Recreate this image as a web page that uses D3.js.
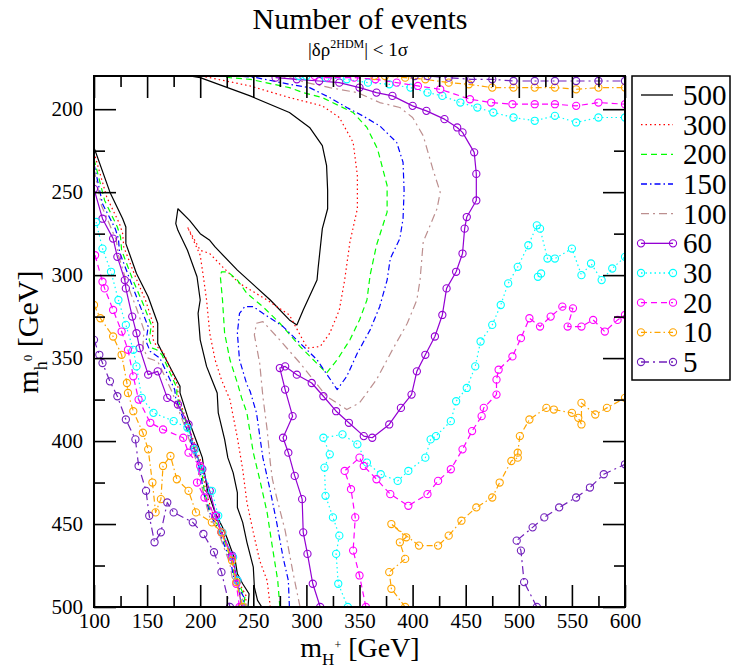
<!DOCTYPE html>
<html><head><meta charset="utf-8">
<script src="https://cdn.jsdelivr.net/npm/d3@7"></script>
<style>
body{margin:0;background:#fff}
svg text{font-family:"Liberation Serif","Times New Roman",serif !important;fill:#000}
</style>
</head><body>
<svg id="chart" width="731" height="671" font-family="Liberation Serif"></svg>
<script>
// ---------- data (mH+ [GeV], mh0 [GeV]) ----------
const levels = ["500","300","200","150","100","60","30","20","10","5"];
const xMajor = [100,150,200,250,300,350,400,450,500,550,600];
const xMinor = [125,175,225,275,325,375,425,475,525,575];
const yMajor = [200,250,300,350,400,450,500];
const yMinor = [225,275,325,375,425,475];

const c500L = [[100,223],[115,250],[127,266],[130,271],[130,281],[140,299],[151,313],[160,329],[160,341],[163,345],[181,367],[181,371],[190,389],[197,401],[202,410],[204,419],[207,430],[214,443],[221,452],[225,458],[233,472],[235,480],[240,486],[246,492],[245,500]];
const c500M = [[258,500],[254,496],[251,488],[250,476],[244,461],[240,449],[235,440],[235,431],[231,419],[226,410],[223,399],[217,383],[216,371],[211,363],[206,355],[200,339],[198,323],[200,315],[197,301],[188,285],[179,273],[177,269],[179,260],[190,267],[200,275],[209,279],[214,283],[235,297],[266,315],[284,327],[291,330],[297,321],[310,303],[311,296],[315,272],[320,260],[320,249],[319,234],[315,222],[303,211],[284,202],[247,192],[200,181],[190,180]];

const c300L = [[100,226],[112,253],[124,269],[127,275],[128,283],[139,301],[149,316],[156,330],[155,338],[159,343],[165,346],[179,367],[179,372],[188,390],[195,402],[200,411],[203,420],[205,430],[212,444],[219,452],[223,458],[231,472],[233,480],[238,487],[243,493],[243,500]];
const c300M = [[266,500],[263,484],[256,472],[250,455],[244,437],[240,417],[235,398],[228,375],[220,363],[214,351],[209,335],[206,315],[203,301],[200,288],[188,271],[200,285],[209,287],[221,295],[237,305],[263,315],[284,324],[294,336],[301,344],[313,343],[322,335],[331,321],[336,303],[341,280],[348,260],[348,240],[344,220],[331,205],[315,198],[284,193],[247,186],[209,181],[200,180]];

const c200L = [[100,230],[110,255],[122,271],[125,277],[126,285],[136,302],[146,317],[154,330],[152,339],[155,344],[159,345],[164,348],[178,368],[178,373],[188,391],[194,403],[199,412],[202,421],[204,431],[211,445],[219,453],[222,459],[230,473],[232,481],[237,487],[242,494],[241,500]];
const c200M = [[275,500],[273,484],[268,464],[263,443],[256,423],[250,407],[244,383],[239,374],[235,365],[228,351],[223,335],[221,315],[219,301],[220,298],[226,298],[235,303],[244,311],[259,319],[275,329],[294,343],[308,352],[319,359],[329,351],[341,339],[350,327],[357,315],[360,300],[366,282],[376,262],[376,246],[367,224],[357,211],[344,202],[331,198],[315,193],[297,190],[284,187],[247,182],[228,181],[220,180]];

const c150L = [[100,233],[108,257],[120,272],[123,278],[124,286],[134,303],[143,318],[151,331],[149,340],[153,346],[162,350],[176,369],[177,374],[187,392],[193,404],[198,413],[201,422],[203,431],[210,445],[218,454],[221,460],[229,473],[231,481],[236,488],[241,494],[240,500]];
const c150M = [[284,500],[283,484],[278,470],[272,449],[266,430],[259,410],[253,383],[247,370],[244,366],[237,351],[235,335],[237,323],[242,319],[250,319],[259,323],[278,331],[310,351],[329,369],[338,361],[348,347],[360,333],[369,319],[376,303],[379,290],[388,278],[391,266],[392,249],[391,232],[385,220],[369,210],[353,204],[338,199],[322,193],[303,187],[284,185],[253,181],[237,180]];

const c100L = [[100,236],[107,258],[117,273],[121,279],[123,288],[131,305],[140,320],[147,333],[146,344],[151,350],[160,352],[174,371],[176,375],[186,392],[192,404],[197,413],[200,422],[203,432],[209,446],[217,454],[220,460],[228,474],[230,482],[236,489],[240,495],[239,500]];
const c100M = [[294,500],[287,478],[280,454],[272,434],[268,423],[266,413],[263,393],[259,373],[256,353],[251,336],[253,329],[259,328],[272,337],[294,353],[319,373],[338,381],[350,377],[366,363],[381,345],[395,329],[404,315],[407,303],[410,280],[423,260],[426,250],[419,236],[410,216],[400,205],[388,199],[369,196],[348,190],[322,187],[300,184],[284,181],[266,180]];

const c60L = [[100,248],[108,266],[118,278],[122,289],[129,303],[130,308],[136,325],[140,335],[143,344],[151,360],[160,358],[169,374],[179,378],[189,390],[194,404],[202,417],[209,430],[215,445],[220,455],[230,469],[235,484],[239,500]];
const c60M = [[313,500],[306,486],[301,468],[297,455],[296,435],[289,421],[283,407],[278,398],[287,385],[280,369],[275,356],[280,355],[291,360],[305,365],[316,373],[328,382],[340,389],[354,397],[362,398],[378,390],[389,380],[399,372],[404,358],[412,348],[421,337],[428,324],[432,308],[441,298],[447,287],[449,272],[451,265],[460,255],[460,239],[458,226],[447,214],[442,211],[430,206],[413,201],[400,198],[381,192],[366,190],[350,187],[331,184],[312,183],[291,182],[271,181]];

const c30L = [[102,268],[108,284],[116,298],[123,315],[130,330],[137,345],[140,355],[145,374],[156,383],[175,388],[188,392],[195,405],[201,417],[211,430],[217,445],[221,455],[231,470],[235,484],[240,500]];
const c30M = [[339,500],[330,486],[328,468],[331,457],[325,446],[318,433],[317,416],[322,408],[316,398],[334,396],[348,402],[357,413],[370,420],[386,424],[396,418],[412,410],[417,399],[422,397],[436,388],[441,376],[451,368],[459,355],[464,340],[475,330],[483,318],[490,305],[499,295],[509,282],[517,270],[520,272],[527,290],[534,290],[550,284],[559,300],[568,293],[578,303],[588,296],[600,289]];
const c30S = [[518,301],[521,299]];
const c30T = [[293,180],[300,180],[318,181],[338,182],[358,184],[378,185],[398,187],[414,190],[428,192],[445,196],[461,199],[476,202],[495,205],[515,207],[534,204],[554,208],[575,205],[600,205]];

const c20L = [[101,288],[108,304],[110,308],[118,321],[126,334],[132,345],[137,361],[142,375],[153,389],[165,393],[184,398],[189,407],[200,415],[197,425],[204,434],[214,445],[220,455],[230,470],[234,486],[237,500]];
const c20M = [[356,500],[350,481],[344,466],[346,446],[342,429],[336,418],[350,410],[354,415],[366,423],[379,432],[396,439],[414,432],[424,424],[436,417],[447,405],[456,394],[465,385],[467,380],[479,372],[479,363],[481,357],[494,349],[502,338],[510,326],[520,331],[530,325],[541,319],[551,320],[546,331],[559,331],[570,327],[581,334],[593,327],[600,324]];
const c20T = [[308,180],[320,181],[345,181],[365,182],[385,184],[405,186],[426,188],[454,194],[474,196],[494,197],[515,197],[534,197],[554,198],[575,196],[600,197]];

const c10L = [[100,318],[106,326],[118,337],[126,348],[131,365],[132,371],[137,382],[146,395],[151,405],[155,425],[158,443],[163,435],[165,415],[172,409],[178,423],[189,430],[196,443],[211,449],[220,455],[230,472],[234,485],[240,500]];
const c10M = [[393,500],[380,489],[378,479],[393,471],[388,461],[394,458],[380,450],[406,463],[424,463],[434,457],[446,448],[460,440],[475,434],[482,425],[493,412],[499,410],[499,407],[501,397],[510,387],[526,380],[533,381],[550,383],[556,386],[559,390],[559,377],[572,384],[583,380],[600,374]];
const c10T = [[364,180],[374,180],[393,181],[412,182],[434,184],[453,185],[475,187],[495,187],[515,187],[534,187],[554,188],[575,187],[600,187]];

const c5L = [[100,339],[105,348],[108,353],[115,364],[122,373],[130,387],[139,399],[142,415],[149,430],[152,445],[157,461],[163,455],[169,437],[175,443],[193,449],[203,456],[213,467],[220,479],[228,500]];
const c5M = [[517,500],[505,485],[502,466],[498,460],[513,452],[524,446],[538,440],[554,434],[567,428],[580,420],[600,414]];
const c5T = [[402,180],[414,180],[434,181],[455,182],[475,182],[495,183],[515,183],[534,183],[554,183],[575,183],[600,183]];

// ---------- styles ----------
const styles = [
  {color:"#000000", dash:null,            marker:false, segs:[c500L,c500M]},
  {color:"#ff0000", dash:"1.5,3",         marker:false, segs:[c300L,c300M]},
  {color:"#00ff00", dash:"6,4",           marker:false, segs:[c200L,c200M]},
  {color:"#0000ff", dash:"6,3,1.5,3",     marker:false, segs:[c150L,c150M]},
  {color:"#bc8f8f", dash:"8,4,2,4",       marker:false, segs:[c100L,c100M]},
  {color:"#9400d3", dash:null,            marker:true,  segs:[c60L,c60M]},
  {color:"#00ffff", dash:"1.5,3",         marker:true,  segs:[c30L,c30M,c30S,c30T]},
  {color:"#ff00ff", dash:"6,4",           marker:true,  segs:[c20L,c20M,c20T]},
  {color:"#ffa500", dash:"6,3,1.5,3",     marker:true,  segs:[c10L,c10M,c10T]},
  {color:"#7221bc", dash:"8,4,2,4",       marker:true,  segs:[c5L,c5M,c5T]}
];

// ---------- layout ----------
const SERIF = "Liberation Serif, Times New Roman, serif";
const svg = d3.select("#chart");
const L=94, R=625, T=76, B=607;
const x = d3.scaleLinear().domain([100,600]).range([L,R]);
const y = d3.scaleLinear().domain([180,500]).range([T,B]);

svg.append("defs").append("clipPath").attr("id","clip")
  .append("rect").attr("x",L).attr("y",T).attr("width",R-L).attr("height",B-T);

const plot = svg.append("g").attr("clip-path","url(#clip)");
const line = d3.line().x(d=>x(d[0])).y(d=>y(d[1]));

styles.forEach(s=>{
  s.segs.forEach(seg=>{
    plot.append("path").datum(seg).attr("d",line)
      .attr("fill","none").attr("stroke",s.color).attr("stroke-width",1.2)
      .attr("stroke-dasharray",s.dash).attr("stroke-linejoin","round");
    if(s.marker){
      plot.selectAll(null).data(seg).enter().append("circle")
        .attr("cx",d=>x(d[0])).attr("cy",d=>y(d[1])).attr("r",3.6)
        .attr("fill","none").attr("stroke",s.color).attr("stroke-width",1.1);
    }
  });
});

// axes (inward ticks on all four sides)
function styleAxis(g){
  g.attr("font-family",SERIF).attr("font-size",21);
  g.select(".domain").remove();
  g.selectAll("line").attr("stroke","#000").attr("stroke-width",1.6);
  g.selectAll("text").attr("font-family",SERIF).attr("font-size",21).style("font-family",SERIF);
}
svg.append("g").attr("transform",`translate(0,${B})`)
  .call(d3.axisBottom(x).tickValues(xMajor).tickSize(-22).tickPadding(6).tickFormat(d3.format("d")))
  .call(styleAxis);
svg.append("g").attr("transform",`translate(0,${B})`)
  .call(d3.axisBottom(x).tickValues(xMinor).tickSize(-11).tickFormat(""))
  .call(styleAxis);
svg.append("g").attr("transform",`translate(0,${T})`)
  .call(d3.axisTop(x).tickValues(xMajor).tickSize(-22).tickFormat(""))
  .call(styleAxis);
svg.append("g").attr("transform",`translate(0,${T})`)
  .call(d3.axisTop(x).tickValues(xMinor).tickSize(-11).tickFormat(""))
  .call(styleAxis);
svg.append("g").attr("transform",`translate(${L},0)`)
  .call(d3.axisLeft(y).tickValues(yMajor).tickSize(-22).tickPadding(11).tickFormat(d3.format("d")))
  .call(styleAxis);
svg.append("g").attr("transform",`translate(${L},0)`)
  .call(d3.axisLeft(y).tickValues(yMinor).tickSize(-11).tickFormat(""))
  .call(styleAxis);
svg.append("g").attr("transform",`translate(${R},0)`)
  .call(d3.axisRight(y).tickValues(yMajor).tickSize(-22).tickFormat(""))
  .call(styleAxis);
svg.append("g").attr("transform",`translate(${R},0)`)
  .call(d3.axisRight(y).tickValues(yMinor).tickSize(-11).tickFormat(""))
  .call(styleAxis);

svg.append("rect").attr("x",L).attr("y",T).attr("width",R-L).attr("height",B-T)
  .attr("fill","none").attr("stroke","#000").attr("stroke-width",2);

// titles
svg.append("text").attr("x",360).attr("y",29).attr("text-anchor","middle")
  .attr("font-family",SERIF).attr("font-size",30).text("Number of events");
const sub = svg.append("text").attr("x",358).attr("y",56).attr("text-anchor","middle")
  .attr("font-family",SERIF).attr("font-size",19);
sub.append("tspan").text("|δρ");
sub.append("tspan").attr("font-size",12).attr("dy",-8).text("2HDM");
sub.append("tspan").attr("dy",8).text("| < 1σ");

const xl = svg.append("text").attr("x",360).attr("y",657).attr("text-anchor","middle")
  .attr("font-family",SERIF).attr("font-size",28);
xl.append("tspan").text("m");
xl.append("tspan").attr("font-size",17).attr("dy",8).text("H");
xl.append("tspan").attr("font-size",12).attr("dy",-16).text("+");
xl.append("tspan").attr("dy",8).text(" [GeV]");

const yl = svg.append("text").attr("transform","translate(38,332) rotate(-90)").attr("text-anchor","middle")
  .attr("font-family",SERIF).attr("font-size",30);
yl.append("tspan").text("m");
yl.append("tspan").attr("font-size",18).attr("dy",9).text("h");
yl.append("tspan").attr("font-size",13).attr("dy",-15).text("0");
yl.append("tspan").attr("dy",6).text(" [GeV]");

// legend
const lg = svg.append("g");
lg.append("rect").attr("x",632).attr("y",76).attr("width",98).attr("height",304)
  .attr("fill","#fff").attr("stroke","#000").attr("stroke-width",1.5);
const ly = d3.scalePoint().domain(levels).range([95,362]);
levels.forEach((lv,i)=>{
  const s = styles[i], yy = ly(lv);
  lg.append("line").attr("x1",641).attr("x2",673).attr("y1",yy).attr("y2",yy)
    .attr("stroke",s.color).attr("stroke-width",1.3).attr("stroke-dasharray",s.dash);
  if(s.marker){
    [641,673].forEach(cx=>lg.append("circle").attr("cx",cx).attr("cy",yy).attr("r",3.6)
      .attr("fill","none").attr("stroke",s.color).attr("stroke-width",1.1));
  }
  lg.append("text").attr("x",683).attr("y",yy+10).attr("font-family",SERIF).attr("font-size",29).text(lv);
});
</script>
</body></html>
